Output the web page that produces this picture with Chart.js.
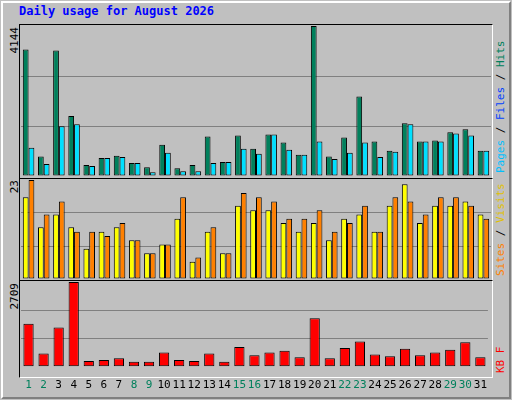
<!DOCTYPE html>
<html>
<head>
<meta charset="UTF-8">
<script src="https://cdn.jsdelivr.net/npm/chart.js"></script>
<style>
  body { margin:0; width:512px; height:400px; background:#c0c0c0; position:relative; overflow:hidden; font-family:"DejaVu Sans Mono", monospace; }
  .frame { position:absolute; left:1px; top:1px; width:506px; height:394px; border-top:2px solid #fff; border-left:2px solid #fff; border-right:2px solid #808080; border-bottom:2px solid #808080; }
  .title { position:absolute; left:19px; top:4px; color:#0000ff; font-weight:bold; font-size:12px; }
  .panel { position:absolute; left:19px; width:472px; border:1px solid #000; border-right-color:#fff; border-bottom-color:#fff; }
  .vt { position:absolute; writing-mode:vertical-rl; transform:rotate(180deg); font-size:11px; white-space:nowrap; }
  canvas { position:absolute; }
</style>
</head>
<body>
<div class="frame"></div>
<div class="title">Daily usage for August 2026</div>
<div class="panel" style="top:24px;height:153px"></div>
<div class="panel" style="top:178px;height:101px"></div>
<div class="panel" style="top:280px;height:96px"></div>
<div class="vt" style="left:8px;top:27px;color:#000">4144</div>
<div class="vt" style="left:8px;top:180px;color:#000">23</div>
<div class="vt" style="left:8px;top:283px;color:#000">2709</div>
<div class="vt" style="left:494px;top:27px;height:146px;text-align:left"><span style="color:#00c0ff">Pages</span> / <span style="color:#0040ff">Files</span> / <span style="color:#00805c">Hits</span></div>
<div class="vt" style="left:494px;top:180px;height:96px;text-align:left"><span style="color:#ff8000">Sites</span> / <span style="color:#e0c000">Visits</span></div>
<div class="vt" style="left:494px;top:335px;height:38px;text-align:left;color:#ff0000">KB F</div>
<canvas id="c1" style="left:21px;top:26px;width:470px;height:150px"></canvas>
<canvas id="c2" style="left:21px;top:180px;width:470px;height:99px"></canvas>
<canvas id="c3" style="left:21px;top:282px;width:470px;height:114px"></canvas>
<script>
const days = Array.from({length:31}, (_, i) => String(i + 1));
const weekend = ['1','2','8','9','15','16','22','23','29','30'];
const hits = [3494,537,3466,1658,301,499,556,358,245,866,217,301,1093,386,1121,753,1149,923,584,4144,537,1064,2194,951,697,1460,951,980,1206,1290,697];
const pages = [782,330,1375,1432,273,499,527,358,104,640,132,132,358,386,753,612,1149,725,584,951,471,640,923,527,669,1432,951,951,1177,1121,697];
const files = [20,0,20,0,0,0,0,0,0,0,0,0,0,0,0,0,0,0,0,0,0,0,0,0,0,0,0,20,0,0,0];
const sites = [19,12,15,12,7,11,12,9,6,8,14,4,11,6,17,16,16,13,11,13,9,14,15,11,17,22,13,17,17,18,15];
const visits = [23,15,18,11,11,10,13,9,6,8,19,5,12,6,20,19,18,14,14,16,11,13,17,11,19,18,15,19,19,17,14];
const kbytes = [1374,425,1256,2709,188,218,277,158,158,455,218,188,425,158,633,366,455,514,306,1552,277,603,811,395,336,573,366,455,544,781,306];

function bar(label, data, color, extra) {
  return Object.assign({ label, data, backgroundColor: color, borderColor: '#000', borderWidth: 1,
    borderSkipped: false, barPercentage: 1, categoryPercentage: 0.76 }, extra || {});
}

function panel(id, datasets, max, showX) {
  new Chart(document.getElementById(id), {
    type: 'bar',
    data: { labels: days, datasets },
    options: {
      responsive: false, animation: false,
      layout: { padding: 0 },
      plugins: { legend: { display: false }, tooltip: { enabled: false } },
      scales: {
        x: {
          display: showX,
          grid: { display: false }, border: { display: false },
          ticks: { font: { family: 'DejaVu Sans Mono', size: 11 }, maxRotation: 0, autoSkip: false, padding: 4,
                   color: ctx => weekend.includes(days[ctx.index]) ? '#00805c' : '#000' }
        },
        y: {
          min: 0, max: max,
          ticks: { display: false, stepSize: max / 3 },
          grid: { color: ctx => ctx.tick.value > 0 && ctx.tick.value < max ? '#808080' : 'rgba(0,0,0,0)', drawTicks: false },
          border: { display: false }
        }
      }
    }
  });
}

// size canvases from CSS
for (const id of ['c1','c2','c3']) {
  const c = document.getElementById(id);
  c.width = parseInt(c.style.width); c.height = parseInt(c.style.height);
}

panel('c1', [
  bar('Hits', hits, '#00805c'),
  bar('Pages', pages, '#00e0ff'),
  bar('Files', files, '#0040ff', { grouped: false, barPercentage: 0.15, order: -1 })
], 4144, false);
panel('c2', [bar('Sites', sites, '#ffff00'), bar('Visits', visits, '#ff8000')], 23, false);
panel('c3', [bar('KBytes', kbytes, '#ff0000', { categoryPercentage: 0.68 })], 2709, true);
</script>
</body>
</html>
